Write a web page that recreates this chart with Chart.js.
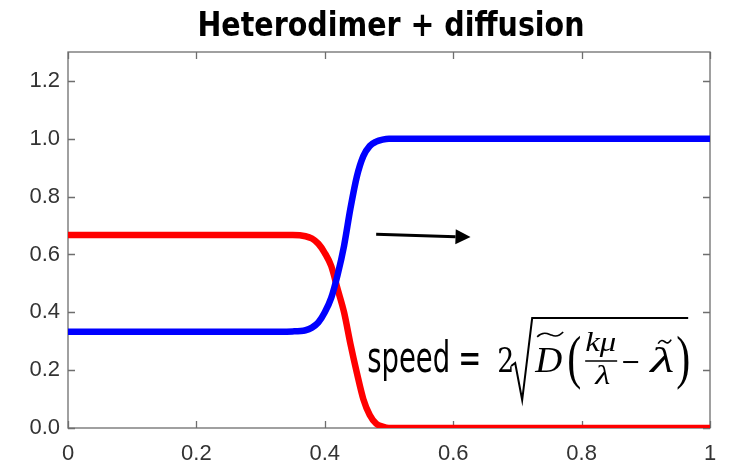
<!DOCTYPE html>
<html>
<head>
<meta charset="utf-8">
<script src="https://cdn.jsdelivr.net/npm/chart.js@4"></script>
<style>
  body { margin: 0; background: #fff; }
  #chart { display: block; }
</style>
</head>
<body>
<canvas id="chart" width="731" height="464"></canvas>
<script>
// values
const titleText = "Heterodimer + diffusion";
const xValues = [0, 0.30, 0.35, 0.37, 0.38, 0.39, 0.40, 0.41, 0.42, 0.43, 0.44, 0.45, 0.46, 0.47, 0.48, 0.49, 0.50, 0.55, 1.0];
const blueValues = [0.333, 0.333, 0.334, 0.338, 0.347, 0.365, 0.40, 0.45, 0.53, 0.63, 0.76, 0.87, 0.94, 0.975, 0.99, 0.997, 1.0, 1.0, 1.0];
const redValues = [0.667, 0.667, 0.667, 0.663, 0.655, 0.637, 0.605, 0.56, 0.48, 0.40, 0.29, 0.19, 0.10, 0.045, 0.015, 0.005, 0.0, 0.0, 0.0];
const xTickValues = [0, 0.2, 0.4, 0.6, 0.8, 1];
const yTickValues = [0, 0.2, 0.4, 0.6, 0.8, 1.0, 1.2];
const arrowFrom = [0.48, 0.67];
const arrowTo = [0.627, 0.66];
const formulaAnchor = [0.466, 0.1935];

const toPoints = (vals) => vals.map((v, i) => ({ x: xValues[i], y: v }));

// draw text squeezed to a given width
function fitText(ctx, text, x, y, font, width) {
  ctx.save();
  ctx.font = font;
  const w = ctx.measureText(text).width;
  ctx.translate(x, y);
  ctx.scale(width / w, 1);
  ctx.fillText(text, 0, 0);
  ctx.restore();
}

function tilde(ctx, x0, x1, yc, amp) {
  const w = x1 - x0;
  ctx.beginPath();
  ctx.moveTo(x0, yc + amp * 0.6);
  ctx.bezierCurveTo(x0 + w * 0.25, yc - amp * 1.6, x0 + w * 0.45, yc - amp * 0.2, x0 + w * 0.55, yc);
  ctx.bezierCurveTo(x0 + w * 0.7, yc + amp * 0.6, x0 + w * 0.85, yc + amp * 0.4, x1, yc - amp);
  ctx.stroke();
}

const framePlugin = {
  id: "frame",
  beforeDatasetsDraw(chart) {
    const { ctx, chartArea: a, scales: { x, y } } = chart;
    ctx.save();
    ctx.strokeStyle = "#6e6e6e";
    ctx.lineWidth = 1.3;
    ctx.strokeRect(a.left, a.top, a.right - a.left, a.bottom - a.top);
    ctx.beginPath();
    xTickValues.forEach((v) => {
      const px = Math.round(x.getPixelForValue(v)) + 0.5;
      ctx.moveTo(px, a.bottom); ctx.lineTo(px, a.bottom - 7);
      ctx.moveTo(px, a.top); ctx.lineTo(px, a.top + 7);
    });
    yTickValues.forEach((v) => {
      const py = Math.round(y.getPixelForValue(v)) + 0.5;
      ctx.moveTo(a.left, py); ctx.lineTo(a.left + 7, py);
      ctx.moveTo(a.right, py); ctx.lineTo(a.right - 7, py);
    });
    ctx.stroke();
    ctx.restore();
  },
  afterDraw(chart) {
    const { ctx, chartArea: a, scales: { x, y } } = chart;
    ctx.save();
    ctx.fillStyle = "#000";
    ctx.strokeStyle = "#000";
    ctx.textAlign = "left";
    ctx.textBaseline = "alphabetic";

    // title
    fitText(ctx, titleText, (a.left + a.right) / 2 - 387 / 2 + 2, 36, "bold 33px 'DejaVu Sans'", 387);

    // arrow
    const x0 = x.getPixelForValue(arrowFrom[0]), y0 = y.getPixelForValue(arrowFrom[1]);
    const x1 = x.getPixelForValue(arrowTo[0]), y1 = y.getPixelForValue(arrowTo[1]);
    const ang = Math.atan2(y1 - y0, x1 - x0);
    const head = 15;
    ctx.lineWidth = 3;
    ctx.beginPath();
    ctx.moveTo(x0, y0);
    ctx.lineTo(x1 - head * Math.cos(ang), y1 - head * Math.sin(ang));
    ctx.stroke();
    ctx.beginPath();
    ctx.moveTo(x1, y1);
    ctx.lineTo(x1 - head * Math.cos(ang) - 7.5 * Math.sin(ang), y1 - head * Math.sin(ang) + 7.5 * Math.cos(ang));
    ctx.lineTo(x1 - head * Math.cos(ang) + 7.5 * Math.sin(ang), y1 - head * Math.sin(ang) - 7.5 * Math.cos(ang));
    ctx.closePath();
    ctx.fill();

    // formula: speed = 2 sqrt( D~ ( k mu / lambda - lambda~ ) )
    const fx = x.getPixelForValue(formulaAnchor[0]);
    const fy = y.getPixelForValue(formulaAnchor[1]);
    ctx.translate(fx, fy);
    const sans = "42px 'DejaVu Sans'";
    ctx.font = sans;
    const sx = 83 / ctx.measureText("speed").width;
    fitText(ctx, "speed", 0, 0, sans, 83);
    ctx.font = sans;
    fitText(ctx, "=", 91, 0, sans, ctx.measureText("=").width * sx);
    fitText(ctx, "2", 130, 0, "34px 'DejaVu Serif'", 17);
    // radical
    ctx.lineWidth = 2;
    ctx.beginPath();
    ctx.moveTo(144, -6);
    ctx.lineTo(148, -9);
    ctx.lineTo(155, 28);
    ctx.lineTo(165, -54);
    ctx.lineTo(321, -54);
    ctx.stroke();
    fitText(ctx, "D", 168, 0, "italic 36px 'Liberation Serif'", 27);
    ctx.lineWidth = 1.6;
    tilde(ctx, 170, 196, -37, 3);
    fitText(ctx, "(", 200, 5, "60px 'Liberation Serif'", 14);
    fitText(ctx, "kμ", 218, -21, "italic 28px 'Liberation Serif'", 31);
    ctx.lineWidth = 1.5;
    ctx.beginPath();
    ctx.moveTo(218, -11); ctx.lineTo(250, -11);
    ctx.stroke();
    fitText(ctx, "λ", 228, 12, "italic 28px 'Liberation Serif'", 15);
    ctx.lineWidth = 2;
    ctx.beginPath();
    ctx.moveTo(256, -10); ctx.lineTo(271, -10);
    ctx.stroke();
    fitText(ctx, "λ", 283, 0, "italic 36px 'Liberation Serif'", 24);
    ctx.lineWidth = 1.6;
    tilde(ctx, 291, 304, -30, 2.5);
    fitText(ctx, ")", 309, 5, "60px 'Liberation Serif'", 14);
    ctx.restore();
  }
};

new Chart(document.getElementById("chart"), {
  type: "line",
  data: {
    datasets: [
      {
        label: "blue",
        data: toPoints(blueValues),
        borderColor: "#0000ff",
        borderWidth: 6.5,
        pointRadius: 0,
        cubicInterpolationMode: "monotone",
        fill: false,
      },
      {
        label: "red",
        data: toPoints(redValues),
        borderColor: "#ff0000",
        borderWidth: 6.5,
        pointRadius: 0,
        cubicInterpolationMode: "monotone",
        fill: false,
      },
    ],
  },
  options: {
    responsive: false,
    animation: false,
    layout: { padding: { left: 0, top: 52, right: 21, bottom: 0 } },
    plugins: {
      legend: { display: false },
      tooltip: { enabled: false },
      title: { display: false },
    },
    scales: {
      x: {
        type: "linear",
        min: 0,
        max: 1,
        afterBuildTicks: (s) => { s.ticks = xTickValues.map((v) => ({ value: v })); },
        afterFit: (s) => { s.height = 36; },
        grid: { display: false, drawTicks: false },
        border: { display: false },
        ticks: {
          padding: 13,
          color: "#333333",
          font: { family: "'Liberation Sans'", size: 22 },
          callback: (v) => String(Math.round(v * 10) / 10),
          maxRotation: 0,
        },
      },
      y: {
        min: 0,
        max: 1.3,
        afterBuildTicks: (s) => { s.ticks = yTickValues.map((v) => ({ value: v })); },
        afterFit: (s) => { s.width = 68; },
        grid: { display: false, drawTicks: false },
        border: { display: false },
        ticks: {
          padding: 8,
          color: "#333333",
          font: { family: "'Liberation Sans'", size: 22 },
          callback: (v) => v.toFixed(1),
        },
      },
    },
  },
  plugins: [framePlugin],
});
</script>
</body>
</html>
